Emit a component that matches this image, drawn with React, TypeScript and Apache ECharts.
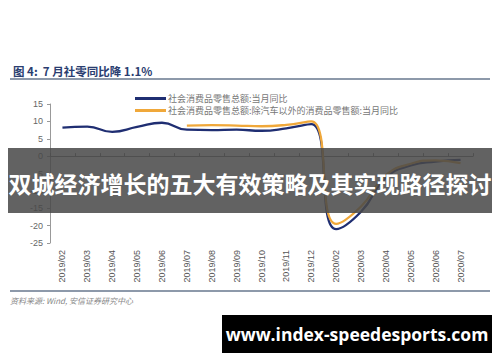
import React, { useEffect, useRef } from "react";
import * as echarts from "echarts";

const categories = [
  "2019/02", "2019/03", "2019/04", "2019/05", "2019/06", "2019/07", "2019/08", "2019/09",
  "2019/10", "2019/11", "2019/12", "2020/02", "2020/03", "2020/04", "2020/05", "2020/06", "2020/07",
];
const totalRetail = [8.2, 8.5, 7.0, 8.4, 9.6, 7.6, 7.5, 7.6, 7.3, 8.0, 9.2, -21.0, -16.0, -6.2, -2.7, -1.6, -1.1];
const exAutoRetail = [null, null, null, null, null, 8.8, 8.9, 8.8, 8.6, 9.0, 10.0, -19.5, -14.5, -5.5, -2.2, -1.2, -2.0];
const seriesNames = ["社会消费品零售总额:当月同比", "社会消费品零售总额:除汽车以外的消费品零售额:当月同比"];
const yMin = -25;
const yMax = 15;
const yInterval = 5;

export default function App() {
  const ref = useRef<HTMLDivElement>(null);
  useEffect(() => {
    if (!ref.current) return;
    const chart = echarts.init(ref.current, null, { renderer: "svg" });
    chart.setOption({
      animation: false,
      backgroundColor: "#ffffff",
      title: {
        text: "图 4:  7 月社零同比降 1.1%",
        left: 8,
        top: 60,
        textStyle: { fontSize: 11.5, fontWeight: "bold", color: "#2a3d70", fontFamily: "Noto Sans CJK SC" },
      },
      legend: {
        orient: "vertical",
        left: 130,
        top: 89,
        itemWidth: 31,
        itemHeight: 3,
        itemGap: 3,
        icon: "rect",
        textStyle: { fontSize: 9, color: "#777", fontFamily: "Noto Sans CJK SC", padding: [0, 0, 0, -3] },
        data: seriesNames,
      },
      grid: { left: 50, right: 27, top: 104, bottom: 119 },
      xAxis: [
        {
          type: "category",
          data: categories,
          position: "bottom",
          boundaryGap: true,
          axisLine: { show: false, onZero: false },
          axisTick: { show: false },
          axisLabel: { rotate: 90, fontSize: 9, color: "#555", margin: 7, interval: 0, fontFamily: "Liberation Sans" },
        },
        {
          type: "category",
          data: categories,
          position: "top",
          boundaryGap: true,
          axisLine: { show: true, onZero: true, lineStyle: { color: "#777", width: 1 } },
          axisTick: { show: true, length: 3, interval: 0, lineStyle: { color: "#777" } },
          axisLabel: { show: false },
        },
      ],
      yAxis: {
        type: "value",
        min: yMin,
        max: yMax,
        interval: yInterval,
        splitLine: { show: false },
        axisLine: { show: true, lineStyle: { color: "#999" } },
        axisTick: { show: true, length: 3, lineStyle: { color: "#999" } },
        axisLabel: { fontSize: 9, color: "#666", margin: 7, fontFamily: "Liberation Sans" },
      },
      series: [
        {
          name: seriesNames[0],
          type: "line",
          data: totalRetail,
          smooth: true,
          showSymbol: false,
          color: "#1f2e72",
          lineStyle: { width: 2.3, color: "#1f2e72" },
        },
        {
          name: seriesNames[1],
          type: "line",
          data: exAutoRetail,
          smooth: true,
          showSymbol: false,
          connectNulls: false,
          color: "#f0a83a",
          lineStyle: { width: 2.3, color: "#f0a83a" },
        },
      ],
      graphic: [
        { type: "line", shape: { x1: 10, y1: 79, x2: 490, y2: 79 }, style: { stroke: "#8d99aa", lineWidth: 2 } },
        { type: "line", shape: { x1: 10, y1: 291, x2: 490, y2: 291 }, style: { stroke: "#8d99aa", lineWidth: 2 } },
        {
          type: "text",
          left: 10,
          top: 296,
          style: {
            text: "资料来源: Wind, 安信证券研究中心",
            fontSize: 8,
            fontStyle: "italic",
            fill: "#888",
            fontFamily: "Noto Sans CJK SC",
          },
        },
        {
          type: "rect",
          shape: { x: 8, y: 148, width: 484, height: 65 },
          style: { fill: "rgba(72,72,72,0.86)" },
          z: 100,
        },
        {
          type: "text",
          x: 250,
          y: 183,
          z: 101,
          style: {
            text: "双城经济增长的五大有效策略及其实现路径探讨",
            fontSize: 23,
            fontWeight: "bold",
            fill: "#ffffff",
            align: "center",
            verticalAlign: "middle",
            fontFamily: "Noto Sans CJK SC",
          },
        },
        {
          type: "rect",
          shape: { x: 222, y: 315, width: 270, height: 38 },
          style: { fill: "#000000" },
          z: 100,
        },
        {
          type: "text",
          x: 357,
          y: 334,
          z: 101,
          style: {
            text: "www.index-speedesports.com",
            fontSize: 17.5,
            fontWeight: "bold",
            fill: "#ffffff",
            align: "center",
            verticalAlign: "middle",
            fontFamily: "Open Sans",
          },
        },
      ],
    });
    return () => chart.dispose();
  }, []);
  return (
    <div
      ref={ref}
      style={{ position: "fixed", left: 0, top: 0, width: 500, height: 362, background: "#fff" }}
    />
  );
}
